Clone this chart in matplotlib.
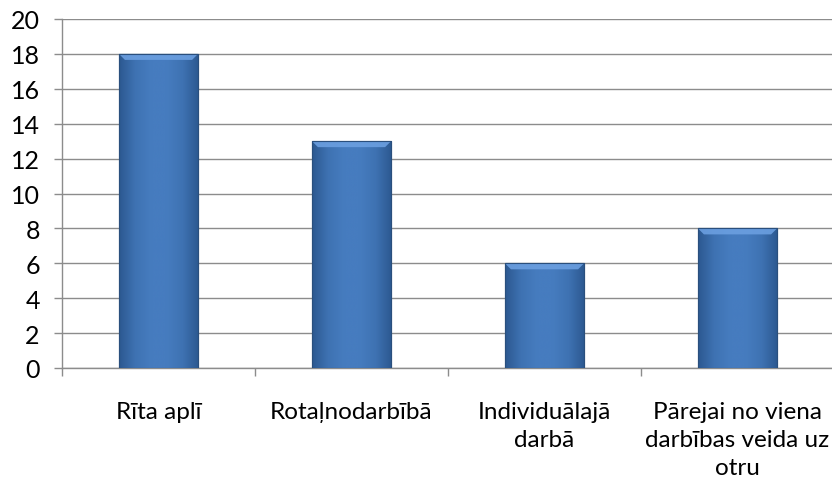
import numpy as np
import matplotlib
matplotlib.use("Agg")
import matplotlib.pyplot as plt
from matplotlib.colors import LinearSegmentedColormap
from matplotlib.patches import Polygon

categories = ["Rīta aplī", "Rotaļnodarbībā", "Individuālajā\ndarbā", "Pārejai no viena\ndarbības veida uz\notru"]
values = [18, 13, 6, 8]
yticks = [0, 2, 4, 6, 8, 10, 12, 14, 16, 18, 20]

plt.rcParams['font.family'] = ['Lato', 'DejaVu Sans']

fig = plt.figure(figsize=(8.32, 4.85), dpi=100)
W, H = 832, 485
ax = fig.add_axes([62 / W, 1 - 369 / H, (834 - 62) / W, (369 - 20) / H])

x = np.arange(len(categories))
bw = 0.41
bars = ax.bar(x, values, width=bw, color="#4a7ebb", edgecolor="#2f5b8f", linewidth=0.8, zorder=3)

cmap = LinearSegmentedColormap.from_list("bev", ["#2c5890", "#3e72b2", "#467cbf", "#467cbf", "#3e72b2", "#2c5890"])
grad = np.linspace(0, 1, 256).reshape(1, -1)
dx = 6 / 193.0
dy = 6 / 17.45
for b in bars:
    x0, y0 = b.get_x(), b.get_y()
    w, h = b.get_width(), b.get_height()
    im = ax.imshow(grad, cmap=cmap, extent=[x0, x0 + w, y0, y0 + h], aspect="auto", zorder=3.1, interpolation="bicubic")
    im.set_clip_path(b)
    top = y0 + h
    bev = Polygon([[x0, top], [x0 + w, top], [x0 + w - dx, top - dy], [x0 + dx, top - dy]],
                  closed=True, facecolor="#6b9fe0", edgecolor="none", zorder=3.2, alpha=0.9)
    ax.add_patch(bev)
    ax.plot([x0, x0 + w, x0 + w, x0, x0], [y0, y0, top, top, y0], color="#2a4f7d", lw=0.8, zorder=3.3)

ax.set_xlim(-0.5, len(categories) - 0.5)
ax.set_ylim(0, 20)
ax.set_yticks(yticks)
ax.set_yticklabels([str(v) for v in yticks], fontsize=18)
ax.yaxis.grid(True, color="#8c8c8c", linewidth=1.0, zorder=0)
ax.set_axisbelow(True)

ax.set_xticks(np.arange(len(categories) + 1) - 0.5)
ax.set_xticklabels([])
ax.set_xticks(x, minor=True)
ax.set_xticklabels(categories, minor=True, fontsize=17.5, linespacing=1.4, va="top")
ax.tick_params(axis="x", which="minor", length=0, pad=24)
ax.tick_params(axis="x", which="major", length=6, color="#8c8c8c", width=1)
ax.tick_params(axis="y", length=6, color="#8c8c8c", width=1, pad=10)

for s in ["top", "right"]:
    ax.spines[s].set_visible(False)
for s in ["left", "bottom"]:
    ax.spines[s].set_color("#8c8c8c")
    ax.spines[s].set_linewidth(1)

fig.savefig("out.png", dpi=100)
